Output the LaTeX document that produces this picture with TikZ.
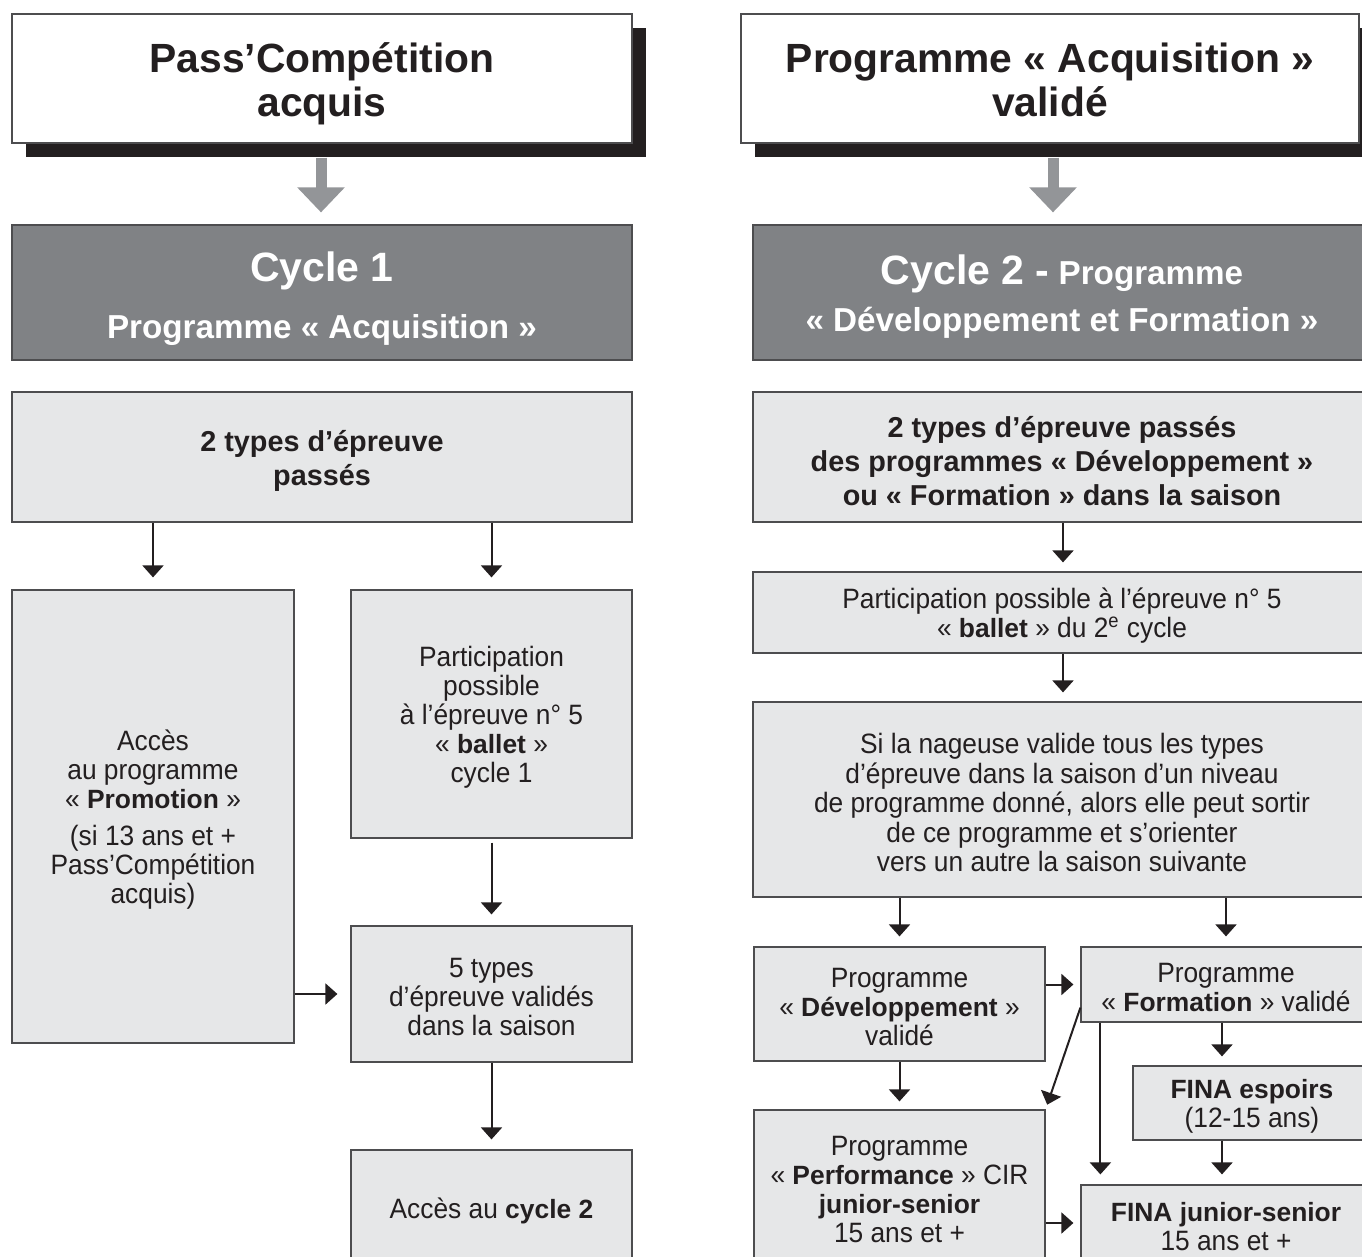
\documentclass[tikz,border=0pt]{standalone}
\usepackage{fontspec}
\setmainfont{Liberation Sans}[UprightFeatures={FakeStretch=0.94}]
\usetikzlibrary{arrows.meta,calc}
\definecolor{lightbox}{HTML}{E6E7E8}
\definecolor{darkbox}{HTML}{808285}
\definecolor{arrowgray}{HTML}{939598}
\definecolor{ink}{HTML}{231F20}
\definecolor{edgecol}{HTML}{4D4D4F}
\newcommand\bx[1]{{\fontsize{13.2}{14.5}\selectfont\bfseries #1}}
\def\tsh{-1.7pt}
% \BX[style]{name}{x1}{y1}{x2}{y2}{text}
\newcommand\BX[7][]{%
  \node[box,#1, minimum width={(#5-#3)*0.5pt}, minimum height={(#6-#4)*0.5pt}]
    (#2) at ({(#3+#5)/2},{(#4+#6)/2}) {};
  \node[txt,#1,draw=none,fill=none,minimum width=0pt,minimum height=0pt,yshift=\tsh]
    (#2-t) at (#2.center) {#7};}
\begin{document}
\begin{tikzpicture}[x=0.5pt,y=-0.5pt,
  tsh/.code={\def\tsh{#1}},
  box/.style={draw=edgecol, line width=0.6pt, fill=lightbox, inner sep=0pt},
  txt/.style={inner sep=0pt, align=center, text=ink, font=\fontsize{14}{14.5}\selectfont},
  titlebox/.style={fill=white, font=\fontsize{20.4}{22}\selectfont\bfseries, tsh=-2.5pt},
  cyclebox/.style={fill=darkbox, text=white, tsh=-3pt},
  headbox/.style={font=\fontsize{14.4}{17}\selectfont\bfseries, tsh=-2.2pt},
  shadowbox/.style={fill=ink, draw=none},
  arr/.style={draw=ink, line width=1pt, -{Triangle[width=10.5pt,length=6pt]}},
  bigarr/.style={draw=arrowgray, line width=5.5pt, -{Triangle[width=23pt,length=12.5pt]}},
]
\useasboundingbox (0,0) rectangle (1362,1257);
\clip (0,0) rectangle (1362,1257);

% ---------------- left column ----------------
\fill[shadowbox] (26,28) rectangle (646,157);
\BX[titlebox]{t1}{12}{14}{632}{143}{Pass’Compétition\\acquis}
\BX[cyclebox, font=\fontsize{16.6}{28.5}\selectfont\bfseries]{c1}{12}{225}{632}{360}
  {{\fontsize{20.5}{28.5}\selectfont Cycle 1}\\Programme « Acquisition »}
\BX[headbox]{b3}{12}{392}{632}{522}{2 types d’épreuve\\passés}
\BX{b4}{12}{590}{294}{1043}
  {Accès\\au programme\\« \bx{Promotion} »\\[4pt](si 13 ans et +\\Pass’Compétition\\acquis)}
\BX{b5}{351}{590}{632}{838}
  {Participation\\possible\\à l’épreuve n° 5\\« \bx{ballet} »\\cycle 1}
\BX{b6}{351}{926}{632}{1062}{5 types\\d’épreuve validés\\dans la saison}
\BX{b7}{351}{1150}{632}{1266}{Accès au \bx{cycle 2}}

\draw[bigarr, shorten <=7pt, shorten >=6pt] ([xshift=-0.5pt]t1.south) -- ([xshift=-0.5pt]t1.south |- c1.north);
\draw[arr, shorten >=6pt] (b4.north |- b3.south) -- (b4.north);
\draw[arr, shorten >=6pt] (b5.north |- b3.south) -- (b5.north);
\draw[arr, shorten <=2pt, shorten >=5.5pt] (b5.south) -- (b6.north);
\draw[arr, shorten >=5pt] (b6.south) -- (b7.north);
\draw[arr, shorten >=6.5pt] (b4.east |- b6.west) -- (b6.west);

% ---------------- right column ----------------
\fill[shadowbox] (755,28) rectangle (1373,157);
\BX[titlebox, tsh=-0.6pt]{t2}{741}{14}{1359}{143}{Programme « Acquisition »\\validé}
\BX[cyclebox, tsh=-2.2pt, font=\fontsize{16.6}{23.5}\selectfont\bfseries]{c2}{753}{225}{1371}{360}
  {{\fontsize{20.5}{23.5}\selectfont Cycle 2 -} Programme\\« Développement et Formation »}
\BX[headbox]{r3}{753}{392}{1371}{522}
  {2 types d’épreuve passés\\des programmes « Développement »\\ou « Formation » dans la saison}
\BX[tsh=-1.7pt]{r4}{753}{572}{1371}{653}
  {Participation possible à l’épreuve n° 5\\« \bx{ballet} » du 2\textsuperscript{e} cycle}
\BX[font=\fontsize{14}{14.75}\selectfont]{r5}{753}{702}{1371}{897}
  {Si la nageuse valide tous les types\\d’épreuve dans la saison d’un niveau\\de programme donné, alors elle peut sortir\\de ce programme et s’orienter\\vers un autre la saison suivante}
\BX{r6}{754}{947}{1045}{1061}{Programme\\« \bx{Développement} »\\validé}
\BX{r7}{1081}{947}{1371}{1022}{Programme\\« \bx{Formation} » validé}
\BX{r8}{1133}{1066}{1371}{1140}{\bx{FINA espoirs}\\(12-15 ans)}
\BX{r9}{754}{1110}{1045}{1262}
  {Programme\\« \bx{Performance} » CIR\\\bx{junior-senior}\\15 ans et +}
\BX{r10}{1081}{1185}{1371}{1261}{\bx{FINA junior-senior}\\15 ans et +}

\draw[bigarr, shorten <=7pt, shorten >=6pt] ([xshift=1.5pt]t2.south) -- ([xshift=1.5pt]t2.south |- c2.north);
\draw[arr, shorten >=4.5pt] ([xshift=0.5pt]r3.south) -- ([xshift=0.5pt]r4.north);
\draw[arr, shorten >=4.5pt] ([xshift=0.5pt]r4.south) -- ([xshift=0.5pt]r5.north);
\draw[arr, shorten >=5pt] (r6.north |- r5.south) -- (r6.north);
\draw[arr, shorten >=5pt] (r7.north |- r5.south) -- (r7.north);
\draw[arr, shorten >=3.5pt] (r6.east |- r7.west) -- (r7.west);
\draw[arr, shorten >=4pt] (r6.south) -- (r6.south |- r9.north);
\draw[arr, shorten >=4.5pt] ([xshift=-2pt]r7.south) -- ([xshift=-2pt]r7.south |- r8.north);
\draw[arr, shorten >=5pt] ([xshift=-2pt]r7.south |- r8.south) -- ([xshift=-2pt]r7.south |- r10.north);
\draw[arr, shorten >=5pt] ([xshift=10pt]r7.south west) -- ([xshift=10pt]r7.south west |- r10.north);
\draw[arr, shorten >=2.5pt] ([yshift=7.5pt]r7.south west) -- (r9.north east);
\draw[arr, shorten >=3.5pt] (r9.east |- r10.west) -- (r10.west);
\end{tikzpicture}
\end{document}
